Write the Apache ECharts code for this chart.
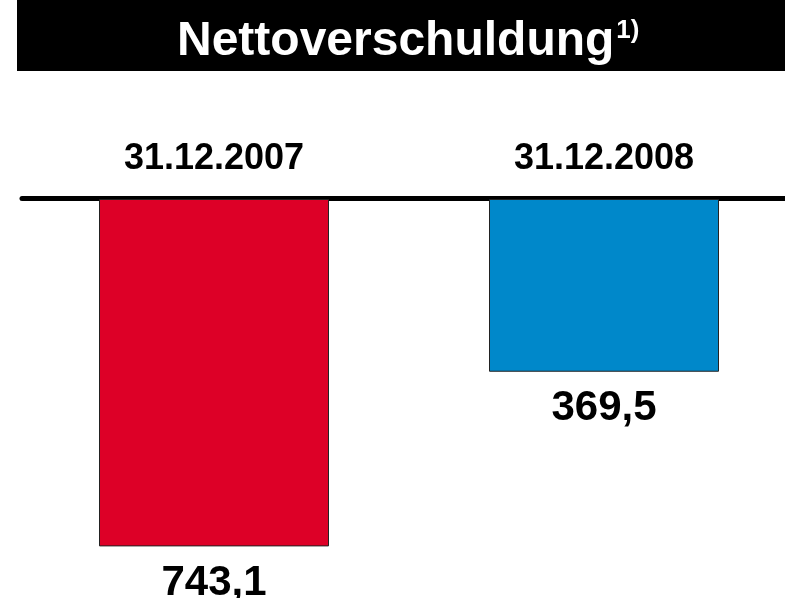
<!DOCTYPE html>
<html>
<head>
<meta charset="utf-8">
<script src="https://cdn.jsdelivr.net/npm/echarts@6/dist/echarts.min.js"></script>
<style>
  html, body { margin: 0; padding: 0; background: #fff; }
  #chart { width: 785px; height: 598px; }
</style>
</head>
<body>
<div id="chart"></div>
<script>
const categories = ['31.12.2007', '31.12.2008'];
const values = [743.1, 369.5];

const barColors = ['#DD0027', '#0088CA'];
const font = '"Liberation Sans", Arial, sans-serif';

const chart = echarts.init(document.getElementById('chart'));

const fmt = (v) => v.toFixed(1).replace('.', ',');

chart.setOption({
  backgroundColor: '#fff',
  animation: false,
  graphic: [
    {
      type: 'rect',
      z: 0,
      shape: { x: 17, y: 0, width: 768, height: 71 },
      style: { fill: '#000' }
    }
  ],
  title: {
    z: 10,
    left: 177,
    top: 18,
    padding: 0,
    text: '{a|Nettoverschuldung}{b|1)}',
    textStyle: {
      rich: {
        a: { fontFamily: font, fontSize: 48, lineHeight: 48, fontWeight: 'bold', color: '#fff' },
        b: { fontFamily: font, fontSize: 26, lineHeight: 26, fontWeight: 'bold', color: '#fff', verticalAlign: 'top', padding: [0, 0, 0, 2] }
      }
    }
  },
  grid: [
    // category points sit at the bar centres
    { left: 214, right: 181, top: 199, height: 374 },
    { left: 22, right: 0, top: 198.5, height: 10 }
  ],
  xAxis: [
    {
      type: 'category',
      gridIndex: 0,
      data: categories,
      boundaryGap: false,
      position: 'top',
      axisLine: { show: false },
      axisTick: { show: false },
      axisLabel: {
        margin: 22,
        color: '#000',
        fontFamily: font,
        fontSize: 36,
        fontWeight: 'bold'
      }
    },
    {
      type: 'value',
      gridIndex: 1,
      position: 'top',
      axisLine: { show: true, onZero: false, lineStyle: { color: '#000', width: 5 } },
      axisTick: { show: false },
      axisLabel: { show: false },
      splitLine: { show: false }
    }
  ],
  yAxis: [
    { type: 'value', gridIndex: 0, min: 0, max: 800, inverse: true, show: false },
    { type: 'value', gridIndex: 1, show: false }
  ],
  series: [
    {
      type: 'bar',
      xAxisIndex: 0,
      yAxisIndex: 0,
      data: values,
      barWidth: 230,
      clip: false,
      itemStyle: {
        color: (p) => barColors[p.dataIndex],
        borderColor: '#222',
        borderWidth: 1
      },
      label: {
        show: true,
        position: 'bottom',
        distance: 16,
        color: '#000',
        fontFamily: font,
        fontSize: 42,
        fontWeight: 'bold',
        formatter: (p) => fmt(p.value)
      }
    }
  ]
});
</script>
</body>
</html>
